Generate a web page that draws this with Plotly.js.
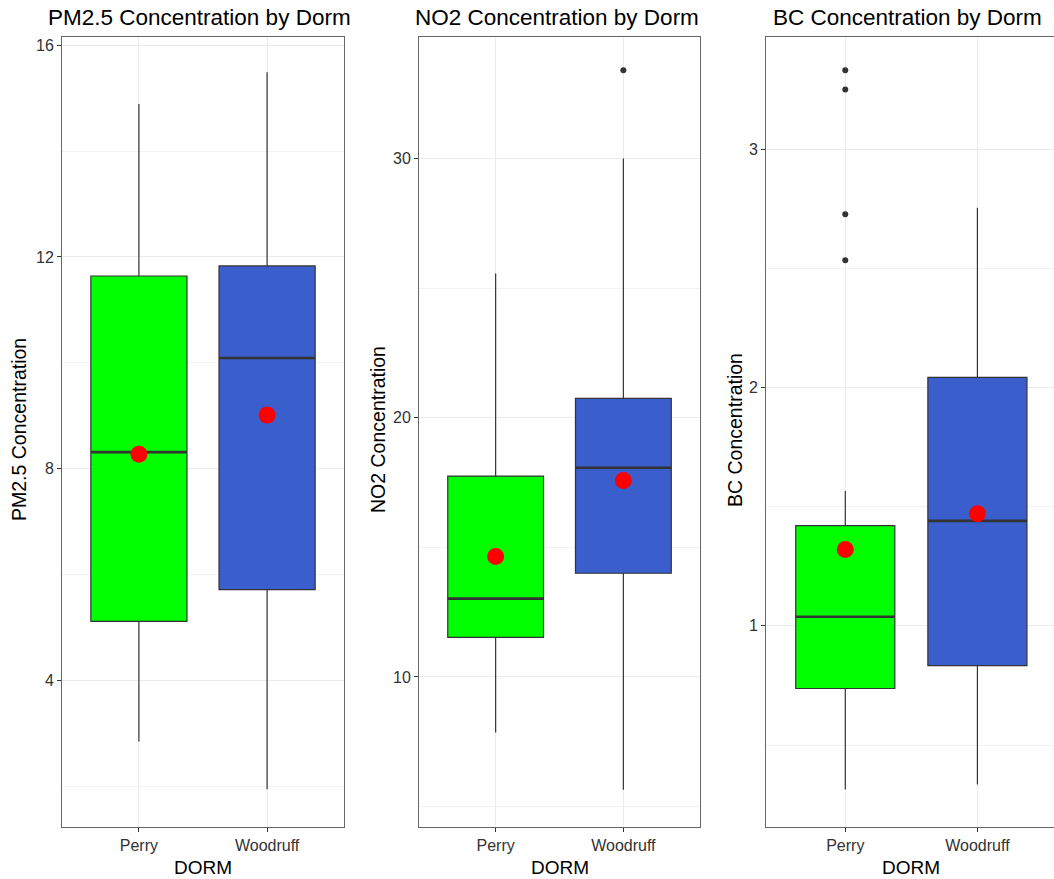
<!DOCTYPE html>
<html>
<head>
<meta charset="utf-8">
<script src="https://cdn.plot.ly/plotly-3.0.1.min.js"></script>
<style>
  html, body { margin: 0; padding: 0; background: #ffffff; }
  #chart { width: 1054px; height: 879px; }
</style>
</head>
<body>
<div id="chart"></div>
<script>
// ---------- data ----------
const dorms = ['Perry', 'Woodruff'];
const dormColors = ['#00FF00', '#3A5FCD'];

const pm25Q1 = [5.11, 5.71];
const pm25Median = [8.31, 10.09];
const pm25Q3 = [11.64, 11.83];
const pm25Low = [2.84, 1.94];
const pm25High = [14.89, 15.49];
const pm25Mean = [8.27, 9.01];
const pm25OutX = [];
const pm25OutY = [];

const no2Q1 = [11.53, 14.0];
const no2Median = [13.02, 18.07];
const no2Q3 = [17.75, 20.75];
const no2Low = [7.86, 5.65];
const no2High = [25.57, 30.0];
const no2Mean = [14.65, 17.58];
const no2OutX = ['Woodruff'];
const no2OutY = [33.41];

const bcQ1 = [0.737, 0.833];
const bcMedian = [1.038, 1.44];
const bcQ3 = [1.42, 2.042];
const bcLow = [0.313, 0.334];
const bcHigh = [1.566, 2.754];
const bcMean = [1.32, 1.47];
const bcOutX = ['Perry', 'Perry', 'Perry', 'Perry'];
const bcOutY = [3.33, 3.25, 2.726, 2.533];

const panelTitles = ['PM2.5 Concentration by Dorm', 'NO2 Concentration by Dorm', 'BC Concentration by Dorm'];
const yTitles = ['PM2.5 Concentration', 'NO2 Concentration', 'BC Concentration'];
const xTitle = 'DORM';

// ---------- build ----------
const W = 1054, H = 879;
const BOXW = 0.75;
const xpos = dorms.map((d, i) => i);
const idxOf = name => dorms.indexOf(name);

const panels = [
  {q1: pm25Q1, med: pm25Median, q3: pm25Q3, lo: pm25Low, hi: pm25High, mean: pm25Mean, ox: pm25OutX, oy: pm25OutY},
  {q1: no2Q1, med: no2Median, q3: no2Q3, lo: no2Low, hi: no2High, mean: no2Mean, ox: no2OutX, oy: no2OutY},
  {q1: bcQ1, med: bcMedian, q3: bcQ3, lo: bcLow, hi: bcHigh, mean: bcMean, ox: bcOutX, oy: bcOutY}
];

// layout geometry (pixels)
const px = [[62, 344], [419, 700], [766, 1054]];
const plotTop = 37, plotBottom = 827;
const xRanges = [[-0.6, 1.6], [-0.6, 1.6], [-0.6, 1 + (1054 - 977.5) / 132]];
const yRanges = [[1.225, 16.157], [4.21, 34.69], [0.156, 3.47]];
const yDtick = [4, 10, 1];
const yMinor = [2, 5, 0.5];
const titleX = [46, 413, 771];
const yTitleX = [19, 378, 735];

const traces = [];
const layout = {
  width: W, height: H,
  margin: {l: 0, r: 0, t: 0, b: 0},
  paper_bgcolor: '#ffffff',
  plot_bgcolor: '#ffffff',
  showlegend: false,
  font: {family: 'Liberation Sans, Arial, sans-serif', color: '#333333'},
  annotations: []
};

const textFont = 'Liberation Sans, Arial, sans-serif';

panels.forEach((p, k) => {
  const sfx = k === 0 ? '' : String(k + 1);
  const xa = 'x' + sfx, ya = 'y' + sfx;

  dorms.forEach((d, i) => {
    traces.push({
      type: 'box', xaxis: xa, yaxis: ya,
      x: [xpos[i]],
      q1: [p.q1[i]], median: [p.med[i]], q3: [p.q3[i]],
      lowerfence: [p.lo[i]], upperfence: [p.hi[i]],
      width: BOXW, whiskerwidth: 0,
      fillcolor: dormColors[i],
      line: {color: '#333333', width: 1.2},
      boxpoints: false, hoverinfo: 'skip'
    });
  });

  // thicker median lines
  const mx = [], my = [];
  dorms.forEach((d, i) => {
    mx.push(xpos[i] - BOXW / 2, xpos[i] + BOXW / 2, null);
    my.push(p.med[i], p.med[i], null);
  });
  traces.push({type: 'scatter', mode: 'lines', xaxis: xa, yaxis: ya, x: mx, y: my,
    line: {color: '#333333', width: 2.6}, hoverinfo: 'skip'});

  // outliers
  if (p.ox.length) {
    traces.push({type: 'scatter', mode: 'markers', xaxis: xa, yaxis: ya,
      x: p.ox.map(idxOf), y: p.oy,
      marker: {color: '#333333', size: 6}, hoverinfo: 'skip'});
  }

  // means
  traces.push({type: 'scatter', mode: 'markers', xaxis: xa, yaxis: ya,
    x: xpos, y: p.mean,
    marker: {color: '#FF0000', size: 17}, hoverinfo: 'skip'});

  const xdom = [px[k][0] / W, Math.min(1, px[k][1] / W)];
  const ydom = [1 - plotBottom / H, 1 - plotTop / H];

  layout['xaxis' + sfx] = {
    domain: xdom, anchor: ya, range: xRanges[k],
    tickmode: 'array', tickvals: xpos, ticktext: dorms,
    showgrid: true, gridcolor: '#ebebeb', gridwidth: 1,
    zeroline: false, showline: true, mirror: true, linecolor: '#666666', linewidth: 1,
    ticks: 'outside', ticklen: 4, tickcolor: '#333333', tickwidth: 1,
    tickfont: {family: textFont, size: 16, color: '#333333'},
    fixedrange: true
  };
  layout['yaxis' + sfx] = {
    domain: ydom, anchor: xa, range: yRanges[k],
    tick0: 0, dtick: yDtick[k],
    showgrid: true, gridcolor: '#ebebeb', gridwidth: 1,
    minor: {dtick: yMinor[k], tick0: 0, showgrid: true, gridcolor: '#f3f3f3', gridwidth: 1},
    zeroline: false, showline: true, mirror: true, linecolor: '#666666', linewidth: 1,
    ticks: 'outside', ticklen: 4, tickcolor: '#333333', tickwidth: 1,
    tickfont: {family: textFont, size: 16, color: '#333333'},
    fixedrange: true
  };

  // panel title
  layout.annotations.push({
    xref: 'paper', yref: 'paper', x: titleX[k] / W, y: 1 - 17 / H,
    xanchor: 'left', yanchor: 'middle', showarrow: false,
    text: panelTitles[k], font: {family: textFont, size: 22.5, color: '#000000'}
  });
  // y title
  layout.annotations.push({
    xref: 'paper', yref: 'paper', x: yTitleX[k] / W, y: 1 - 430 / H,
    xanchor: 'center', yanchor: 'middle', showarrow: false, textangle: -90,
    text: yTitles[k], font: {family: textFont, size: 19.5, color: '#000000'}
  });
  // x title
  const cx = (px[k][0] + (k === 2 ? 1056 : px[k][1])) / 2;
  layout.annotations.push({
    xref: 'paper', yref: 'paper', x: cx / W, y: 1 - 867 / H,
    xanchor: 'center', yanchor: 'middle', showarrow: false,
    text: xTitle, font: {family: textFont, size: 19, color: '#000000'}
  });
});

Plotly.newPlot('chart', traces, layout, {displayModeBar: false, staticPlot: true});
</script>
</body>
</html>
